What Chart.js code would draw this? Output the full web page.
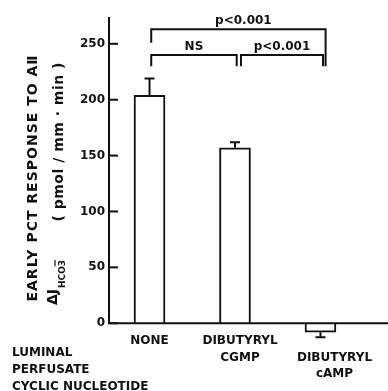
<!DOCTYPE html>
<html>
<head>
<meta charset="utf-8">
<script src="https://cdn.jsdelivr.net/npm/chart.js@4.4.0/dist/chart.umd.min.js"></script>
<style>
  html, body { margin: 0; padding: 0; background: #fff; }
  #wrap { width: 388px; height: 391px; position: relative; }
</style>
</head>
<body>
<div id="wrap"><canvas id="chart"></canvas></div>
<script>
// data
const categories = [['NONE'], ['DIBUTYRYL', 'CGMP'], ['', 'DIBUTYRYL', 'cAMP']];
const responseValues = [204, 157, -8];
const responseErrors = [15, 5, 4.5];
const yTicks = [0, 50, 100, 150, 200, 250];
const sideLabels = ['LUMINAL', 'PERFUSATE', 'CYCLIC NUCLEOTIDE'];

// significance brackets (x in category units, y in data units)
const bracketFrom = [0.02, 0.02, 1.07];
const bracketTo = [2.06, 1.02, 2.03];
const bracketLevel = [263, 240, 240];
const bracketLegLeft = [251, 230, 230];
const bracketLegRight = [230, 230, 230];
const bracketText = ['p<0.001', 'NS', 'p<0.001'];

const INK = '#111';
const FONT = '"DejaVu Sans", sans-serif';

const figurePlugin = {
    id: 'figure',
    afterDatasetsDraw(chart) {
        const ctx = chart.ctx;
        const x = chart.scales.x;
        const y = chart.scales.y;
        const area = chart.chartArea;
        const y0 = y.getPixelForValue(0);

        ctx.save();
        ctx.strokeStyle = INK;
        ctx.fillStyle = INK;
        ctx.lineWidth = 2;
        ctx.lineCap = 'butt';

        // error bars
        responseValues.forEach(function(v, i) {
            const px = x.getPixelForValue(i);
            const dir = v < 0 ? -1 : 1;
            const a = y.getPixelForValue(v);
            const b = y.getPixelForValue(v + dir * responseErrors[i]);
            ctx.beginPath();
            ctx.moveTo(px, a);
            ctx.lineTo(px, b);
            ctx.moveTo(px - 5, b);
            ctx.lineTo(px + 5, b);
            ctx.stroke();
        });

        // axes
        ctx.beginPath();
        ctx.moveTo(area.left, area.top);
        ctx.lineTo(area.left, y0);
        ctx.lineTo(area.right, y0);
        ctx.stroke();
        yTicks.forEach(function(t) {
            const py = y.getPixelForValue(t);
            ctx.beginPath();
            ctx.moveTo(area.left, py);
            ctx.lineTo(area.left + 9, py);
            ctx.stroke();
        });

        // brackets
        ctx.font = 'bold 12px ' + FONT;
        ctx.textAlign = 'center';
        ctx.textBaseline = 'alphabetic';
        bracketText.forEach(function(txt, i) {
            const xa = x.getPixelForValue(bracketFrom[i]);
            const xb = x.getPixelForValue(bracketTo[i]);
            const yl = y.getPixelForValue(bracketLevel[i]);
            ctx.beginPath();
            ctx.moveTo(xa, y.getPixelForValue(bracketLegLeft[i]));
            ctx.lineTo(xa, yl);
            ctx.lineTo(xb, yl);
            ctx.lineTo(xb, y.getPixelForValue(bracketLegRight[i]));
            ctx.stroke();
            ctx.fillText(txt, (xa + xb) / 2 + (i === 0 ? 5 : 0), yl - 5);
        });

        // category labels
        const shift = [0, 5, 14];
        ctx.font = 'bold 12px ' + FONT;
        ctx.textBaseline = 'middle';
        categories.forEach(function(lines, i) {
            const px = x.getPixelForValue(i) + shift[i];
            lines.forEach(function(line, k) {
                ctx.fillText(line, px, 341 + k * 16.5);
            });
        });

        // side labels
        ctx.textAlign = 'left';
        sideLabels.forEach(function(s, k) {
            ctx.fillText(s, 12, 353 + k * 17);
        });

        // y title, line 1
        ctx.save();
        ctx.translate(33, 178);
        ctx.rotate(-Math.PI / 2);
        ctx.font = 'bold 14px ' + FONT;
        ctx.letterSpacing = '1px';
        ctx.textAlign = 'center';
        ctx.textBaseline = 'middle';
        ctx.fillText('EARLY PCT RESPONSE TO A\u2161', 0, 0);
        ctx.restore();

        // y title, line 2
        ctx.save();
        ctx.translate(0, 305);
        ctx.rotate(-Math.PI / 2);
        ctx.textBaseline = 'alphabetic';
        ctx.textAlign = 'left';
        ctx.font = 'bold 14px ' + FONT;
        ctx.fillText('\u0394J', 0, 57);
        let dx = ctx.measureText('\u0394J').width + 1;
        ctx.font = 'bold 9px ' + FONT;
        ctx.fillText('HCO', dx, 65);
        dx += ctx.measureText('HCO').width;
        const w3 = ctx.measureText('3').width;
        ctx.fillText('3', dx, 65);
        ctx.lineWidth = 1.2;
        ctx.beginPath();
        ctx.moveTo(dx, 55);
        ctx.lineTo(dx + w3, 55);
        ctx.stroke();
        ctx.font = 'bold 14px ' + FONT;
        ctx.letterSpacing = '0.5px';
        ctx.textAlign = 'right';
        ctx.fillText('( pmol / mm \u00b7 min )', 243, 63);
        ctx.restore();

        ctx.restore();
    }
};

const ctx = document.getElementById('chart').getContext('2d');
const chart = new Chart(ctx, {
    type: 'bar',
    data: {
        datasets: [{
            data: responseValues.map(function(v, i) { return { x: i, y: v }; }),
            backgroundColor: '#fff',
            borderColor: INK,
            borderWidth: 2,
            barThickness: 31
        }]
    },
    options: {
        responsive: true,
        maintainAspectRatio: false,
        animation: false,
        layout: { padding: { top: 17, bottom: 51, left: 0, right: 0 } },
        plugins: {
            legend: { display: false },
            tooltip: { enabled: false }
        },
        scales: {
            x: {
                type: 'linear',
                min: -0.474,
                max: 2.79,
                offset: false,
                grid: { offset: false },
                display: false
            },
            y: {
                min: -15,
                max: 274,
                grid: { display: false, drawTicks: false },
                border: { display: false },
                afterBuildTicks: function(scale) {
                    scale.ticks = yTicks.map(function(v) { return { value: v }; });
                },
                afterFit: function(scale) { scale.width = 109; },
                ticks: {
                    padding: 4,
                    color: INK,
                    font: { family: FONT, size: 12, weight: 'bold' }
                }
            }
        }
    },
    plugins: [figurePlugin]
});
</script>
</body>
</html>
